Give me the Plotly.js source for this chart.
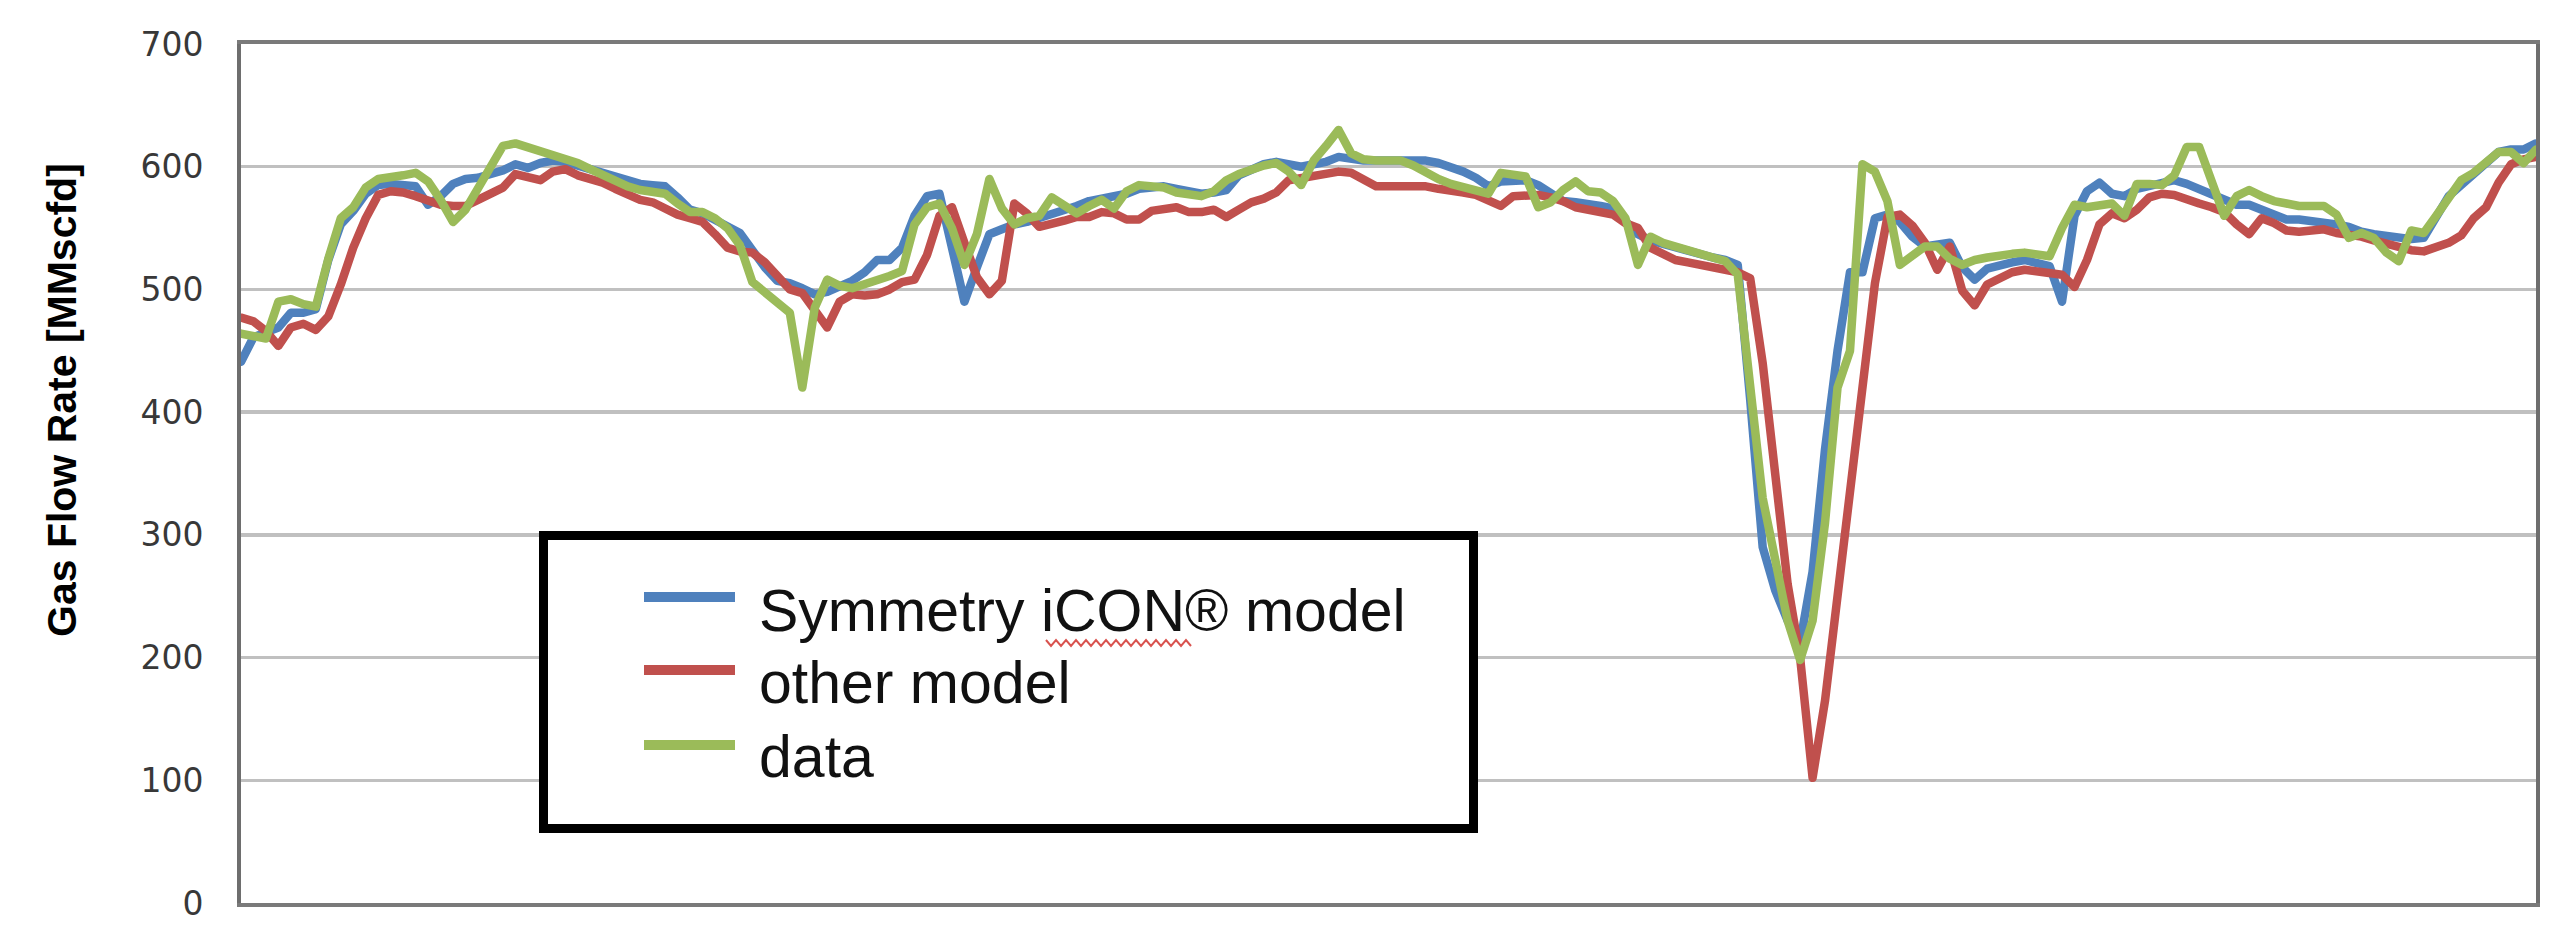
<!DOCTYPE html>
<html>
<head>
<meta charset="utf-8">
<script src="https://cdn.plot.ly/plotly-3.0.1.min.js"></script>
<style>
  html, body { margin: 0; padding: 0; background: #ffffff; }
  #chart { width: 2561px; height: 952px; }
  .scatterlayer path.js-line { stroke-linejoin: round; stroke-linecap: round; }
</style>
</head>
<body>
<div id="chart"></div>
<script>
// ---- data ----
const seriesNames = ['Symmetry iCON\u00AE model', 'other model', 'data'];
const yTickValues = [0, 100, 200, 300, 400, 500, 600, 700];
const yAxisTitle = 'Gas Flow Rate [MMscfd]';

const symmetryModel = [
  441,461,465,469,481,481,484,524,553,564,
  578,585,586,585,584,569,576,586,590,591,
  594,597,602,599,603,605,604,601,598,595,
  592,589,586,585,584,575,565,562,557,552,
  546,532,518,507,505,501,496,498,503,507,
  514,524,524,534,560,576,578,535,490,518,
  545,549,553,555,558,561,564,568,572,574,
  576,578,582,583,584,582,580,578,579,581,
  593,598,602,604,602,600,602,604,608,606,
  605,605,605,605,605,605,603,600,596,591,
  584,588,589,589,585,578,572,571,570,568,
  566,556,545,540,537,534,531,528,526,524,
  520,410,290,255,230,212,270,370,450,514,
  514,558,561,555,543,535,537,538,518,508,
  517,520,522,524,521,519,490,560,580,587,
  578,576,582,584,586,589,586,582,578,574,
  569,569,565,560,557,557,556,554,553,551,
  547,545,544,543,541,542,560,576,585,593,
  603,612,614,614,619
];

const otherModel = [
  477,474,466,454,469,472,467,478,504,534,
  558,577,580,579,576,572,569,568,568,573,
  578,583,594,591,589,596,598,593,590,587,
  582,577,573,571,566,561,558,555,545,534,
  531,530,522,511,500,497,484,469,490,496,
  495,496,500,506,508,528,560,567,538,510,
  496,507,570,562,551,553,556,559,559,563,
  562,557,557,564,566,567,563,563,565,559,
  565,571,574,579,589,591,593,595,596,595,
  590,584,584,584,584,584,582,581,579,577,
  573,568,576,577,577,575,572,567,565,563,
  561,554,550,534,528,524,522,520,518,517,
  514,509,440,350,260,200,102,165,250,340,
  420,505,559,561,552,538,516,535,499,487,
  504,510,514,516,515,514,512,502,524,553,
  562,558,565,575,578,577,573,570,567,563,
  553,545,558,554,548,547,548,549,546,545,
  543,540,537,534,532,531,534,538,544,558,
  567,587,602,606,608
];

const measuredData = [
  464,462,460,490,492,488,486,525,558,567,
  583,590,591,593,595,588,573,555,565,583,
  602,617,619,616,613,610,606,603,598,593,
  589,584,581,580,578,570,563,563,558,550,
  536,506,498,490,481,420,485,508,503,501,
  504,507,511,515,553,567,570,550,520,545,
  590,566,553,558,560,575,568,562,568,573,
  566,580,585,584,583,579,577,576,580,589,
  594,598,601,603,596,585,605,617,630,611,
  606,605,605,605,601,595,590,586,583,580,
  578,595,593,592,567,571,581,588,580,579,
  572,558,520,543,538,535,532,529,525,523,
  512,420,330,280,230,198,230,310,420,450,
  602,596,572,520,528,535,535,525,520,524,
  526,528,529,530,528,527,550,569,567,569,
  570,560,586,586,585,593,616,616,587,560,
  576,581,576,572,570,568,568,568,561,542,
  546,542,530,523,548,546,560,576,589,595,
  604,612,612,603,614
];

// ---- styling ----
const seriesColors = ['#4F81BD', '#C0504D', '#9BBB59'];
const W = 2561, H = 952;
const plotLeft = 241, plotRight = 2536, plotTop = 44, plotBottom = 903;
const px2x = p => (p - plotLeft) / (plotRight - plotLeft);
const px2y = p => (plotBottom - p) / (plotBottom - plotTop);

const allSeries = [symmetryModel, otherModel, measuredData];
const traces = allSeries.map((ys, k) => ({
  type: 'scatter',
  mode: 'lines',
  y: ys,
  name: seriesNames[k],
  line: { color: seriesColors[k], width: 8.5, shape: 'linear' },
  showlegend: false,
  hoverinfo: 'skip'
}));

// ---- legend box (drawn as shapes + text) ----
const shapes = [{
  type: 'rect', xref: 'paper', yref: 'paper', layer: 'above',
  x0: px2x(543.5), x1: px2x(1473.5), y0: px2y(828.5), y1: px2y(535.5),
  line: { color: '#000000', width: 9 }, fillcolor: '#ffffff'
}];
const legendRowsSwatch = [597, 670, 745];
const legendRowsText = [611, 683, 757];
const annotations = [];
seriesNames.forEach((name, k) => {
  shapes.push({
    type: 'line', xref: 'paper', yref: 'paper', layer: 'above',
    x0: px2x(644), x1: px2x(735), y0: px2y(legendRowsSwatch[k]), y1: px2y(legendRowsSwatch[k]),
    line: { color: seriesColors[k], width: 10 }
  });
  annotations.push({
    xref: 'paper', yref: 'paper', x: px2x(757), y: px2y(legendRowsText[k]),
    xanchor: 'left', yanchor: 'middle', showarrow: false, text: name,
    font: { family: 'Liberation Sans, Arial, sans-serif', size: 59, color: '#111111' }
  });
});
// spell-check squiggle under "iCON" in the legend (as in the picture)
(function () {
  let d = '';
  const xs = 1046, xe = 1192, yb = 643, amp = 3, step = 5;
  let up = true;
  for (let p = xs; p <= xe; p += step) {
    const yy = up ? yb - amp : yb + amp;
    d += (p === xs ? 'M' : 'L') + px2x(p).toFixed(5) + ',' + px2y(yy).toFixed(5);
    up = !up;
  }
  shapes.push({ type: 'path', xref: 'paper', yref: 'paper', layer: 'above', path: d,
    line: { color: '#d9534f', width: 2 } });
})();

// y axis title (placed as in the picture, above the axis centre)
annotations.push({
  xref: 'paper', yref: 'paper', x: px2x(62), y: px2y(400),
  xanchor: 'center', yanchor: 'middle', showarrow: false, textangle: -90,
  text: '<b>' + yAxisTitle + '</b>',
  font: { family: 'Liberation Sans, Arial, sans-serif', size: 41, color: '#000000' }
});

const layout = {
  width: W, height: H,
  paper_bgcolor: '#ffffff', plot_bgcolor: '#ffffff',
  margin: { l: plotLeft, r: W - plotRight, t: plotTop, b: H - plotBottom, pad: 0 },
  showlegend: false,
  xaxis: {
    range: [0, symmetryModel.length - 1],
    showticklabels: false, ticks: '', showgrid: false, zeroline: false,
    showline: true, mirror: true, linecolor: '#7a7a7a', linewidth: 4
  },
  yaxis: {
    range: [0, 700], tickmode: 'array', tickvals: yTickValues,
    ticktext: yTickValues.map(String),
    ticks: '', ticklabelstandoff: 27,
    tickfont: { family: 'DejaVu Sans, Verdana, sans-serif', size: 33, color: '#383838' },
    showgrid: true, gridcolor: '#c0c0c0', gridwidth: 3.5, zeroline: false,
    showline: true, mirror: true, linecolor: '#6e6e6e', linewidth: 4
  },
  shapes: shapes,
  annotations: annotations
};

Plotly.newPlot('chart', traces, layout, { displayModeBar: false, staticPlot: true });
</script>
</body>
</html>
